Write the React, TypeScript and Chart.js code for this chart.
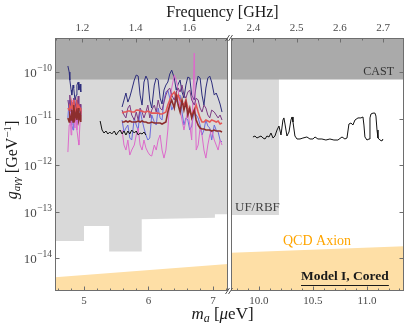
import React, { useEffect, useRef } from "react";
import { Chart, registerables } from "chart.js";

Chart.register(...registerables);

const SERIF = "'Liberation Serif', 'Times New Roman', serif";

// ---------------- axes ----------------
const LEFT_MASS_RANGE = [4.55, 7.233];
const RIGHT_MASS_RANGE = [9.741, 11.343];
const LEFT_FREQ_RANGE = [1.0977, 1.746];
const RIGHT_FREQ_RANGE = [2.3485, 2.748];
const G_RANGE = [1.95e-15, 5.4e-10];

const Y_TICKS = [1e-14, 1e-13, 1e-12, 1e-11, 1e-10];
const Y_TICK_BASE = "10";
const Y_TICK_EXPONENTS = ["−14", "−13", "−12", "−11", "−10"];
const LEFT_MASS_TICKS = [5, 6, 7];
const LEFT_MASS_MINOR = [4.6, 4.8, 5.2, 5.4, 5.6, 5.8, 6.2, 6.4, 6.6, 6.8, 7.2];
const RIGHT_MASS_TICKS = [10.0, 10.5, 11.0];
const RIGHT_MASS_MINOR = [9.8, 9.9, 10.1, 10.2, 10.3, 10.4, 10.6, 10.7, 10.8, 10.9, 11.1, 11.2, 11.3];
const LEFT_FREQ_TICKS = [1.2, 1.4, 1.6];
const LEFT_FREQ_MINOR = [1.1, 1.15, 1.25, 1.3, 1.35, 1.45, 1.5, 1.55, 1.65, 1.7];
const RIGHT_FREQ_TICKS = [2.4, 2.5, 2.6, 2.7];
const RIGHT_FREQ_MINOR = [2.35, 2.45, 2.55, 2.65];

// ---------------- exclusion regions ----------------
const CAST_G = 6.9e-11;
const UF_LEFT_MASS = [4.55, 5.0, 5.0, 5.39, 5.39, 5.895, 5.895, 7.03, 7.03, 7.233];
const UF_LEFT_G = [2.32e-14, 2.32e-14, 4.88e-14, 4.88e-14, 1.38e-14, 1.38e-14, 6.8e-14, 7.36e-14, 8.7e-14, 8.7e-14];
const UF_RIGHT_MASS = [9.741, 10.185];
const UF_RIGHT_G = [8.4e-14, 8.4e-14];
const QCD_LEFT_MASS = [4.55, 7.233];
const QCD_LEFT_G = [3.85e-15, 7.4e-15];
const QCD_RIGHT_MASS = [9.741, 11.343];
const QCD_RIGHT_G = [1.3e-14, 1.78e-14];

// ---------------- limits: first cluster ----------------
const CLUSTER_MASS = [4.75, 4.77, 4.78, 4.8, 4.81, 4.83, 4.84, 4.86, 4.88, 4.89, 4.91, 4.92, 4.94, 4.95];
const CLUSTER_NAVY = [1.35e-10, 1.0e-10, 6.73e-11, 4.1e-11, 3.2e-11, 5.25e-11, 4.53e-11, 2.5e-11, 3.2e-11, 5.25e-11, 6.09e-11, 4.1e-11, 5.52e-11, 3.72e-11];
const CLUSTER_BLUE = [1.03e-11, 2.5e-11, 1.95e-11, 1.38e-11, 7.25e-12, 5.66e-12, 1.03e-11, 1.52e-11, 1.19e-11, 7.25e-12, 9.29e-12, 1.68e-11, 1.38e-11, 1.95e-11];
const CLUSTER_PINK = [1.9e-12, 7.25e-12, 1.52e-11, 4.42e-12, 1.19e-11, 2.5e-11, 9.29e-12, 6.25e-12, 1.95e-11, 5.66e-12, 3.45e-12, 2.69e-12, 9.29e-12, 1.52e-11];
const CLUSTER_PURPLE = [2.5e-11, 1.68e-11, 3.2e-11, 1.38e-11, 2.26e-11, 1.19e-11, 2.76e-11, 1.68e-11, 2.5e-11, 1.38e-11, 3.05e-11, 1.52e-11, 2.05e-11, 1.19e-11];
const CLUSTER_RED = [1.68e-11, 1.52e-11, 1.86e-11, 1.68e-11, 2.05e-11, 1.52e-11, 2.5e-11, 1.38e-11, 1.68e-11, 2.05e-11, 1.52e-11, 1.86e-11, 1.68e-11, 1.52e-11];
const CLUSTER_DARKRED = [1.03e-11, 8.41e-12, 1.19e-11, 9.29e-12, 1.52e-11, 8.41e-12, 1.95e-11, 1.03e-11, 1.38e-11, 9.29e-12, 1.68e-11, 9.29e-12, 1.19e-11, 8.41e-12];

// ---------------- limits: main scan ----------------
const MAIN_MASS = [5.59, 5.62, 5.65, 5.68, 5.71, 5.74, 5.78, 5.81, 5.84, 5.87, 5.9, 5.93, 5.96, 5.99, 6.02, 6.05, 6.09, 6.12, 6.15, 6.18, 6.21, 6.24, 6.27, 6.3, 6.33, 6.36, 6.4, 6.43, 6.46, 6.49, 6.52, 6.55, 6.58, 6.61, 6.64, 6.67, 6.71, 6.74, 6.77, 6.8, 6.83, 6.86, 6.89, 6.92, 6.95, 6.98, 7.02, 7.05, 7.08, 7.11, 7.14];
const MAIN_NAVY = [1.77e-11, 2.5e-11, 3.54e-11, 2.26e-11, 2.9e-11, 4.1e-11, 6.73e-11, 8.62e-11, 8.2e-11, 3.2e-11, 1.95e-11, 6.09e-11, 8.2e-11, 6.73e-11, 2.5e-11, 1.68e-11, 5.25e-11, 7.43e-11, 6.73e-11, 2.76e-11, 2.05e-11, 4.1e-11, 5.25e-11, 6.09e-11, 9.06e-11, 1.1e-10, 7.43e-11, 4.1e-11, 5.52e-11, 6.73e-11, 3.72e-11, 2.76e-11, 5.25e-11, 7.8e-11, 7.43e-11, 3.2e-11, 2.5e-11, 5.25e-11, 8.2e-11, 7.43e-11, 3.2e-11, 1.95e-11, 4.53e-11, 7.43e-11, 8.2e-11, 6.09e-11, 3.2e-11, 3.54e-11, 2.76e-11, 2.05e-11, 1.38e-11];
const MAIN_BLUE = [9.29e-12, 5.13e-12, 6.25e-12, 7.25e-12, 3.81e-12, 3.45e-12, 1.03e-11, 7.25e-12, 5.66e-12, 1.52e-11, 9.29e-12, 6.25e-12, 4.42e-12, 3.45e-12, 3.81e-12, 1.19e-11, 8.41e-12, 7.25e-12, 1.68e-11, 1.03e-11, 9.29e-12, 2.5e-11, 3.72e-11, 4.1e-11, 2.76e-11, 1.52e-11, 2.05e-11, 2.26e-11, 3.05e-11, 3.2e-11, 1.38e-11, 7.25e-12, 1.03e-11, 9.29e-12, 5.66e-12, 6.9e-12, 1.52e-11, 1.19e-11, 1.03e-11, 7.25e-12, 4.42e-12, 5.66e-12, 9.29e-12, 6.9e-12, 6.25e-12, 3.45e-12, 7.25e-12, 5.66e-12, 5.13e-12, 3.45e-12, 3.13e-12];
const MAIN_PINK = [5.66e-12, 2.69e-12, 2.1e-12, 3.45e-12, 1.64e-12, 2.1e-12, 2.69e-12, 4.42e-12, 6.25e-12, 2.69e-12, 2.1e-12, 3.45e-12, 2.33e-12, 1.9e-12, 1.64e-12, 1.56e-12, 2.69e-12, 2.1e-12, 3.45e-12, 4.42e-12, 2.1e-12, 1.41e-12, 2.1e-12, 5.66e-12, 2.5e-11, 4.53e-11, 8.62e-11, 6.73e-11, 4.1e-11, 1.52e-11, 9.29e-12, 5.66e-12, 9.29e-12, 1.52e-11, 7.25e-12, 3.45e-12, 2.56e-10, 2.1e-12, 2.69e-12, 6.25e-12, 4.42e-12, 2.1e-12, 1.41e-12, 2.69e-12, 4.42e-12, 5.66e-12, 3.45e-12, 2.69e-12, 2.1e-12, 3.45e-12, 2.69e-12];
const MAIN_PURPLE = [1.52e-11, 1.19e-11, 1.03e-11, 1.68e-11, 1.95e-11, 1.19e-11, 9.29e-12, 1.38e-11, 9.29e-12, 1.68e-11, 1.38e-11, 1.03e-11, 1.38e-11, 1.95e-11, 1.03e-11, 1.52e-11, 1.95e-11, 1.38e-11, 2.5e-11, 1.68e-11, 1.52e-11, 2.26e-11, 3.2e-11, 4.1e-11, 4.53e-11, 3.2e-11, 2.5e-11, 3.72e-11, 4.53e-11, 3.72e-11, 5.25e-11, 3.2e-11, 2.76e-11, 3.72e-11, 4.1e-11, 2.5e-11, 1.95e-11, 2.76e-11, 2.5e-11, 1.68e-11, 1.38e-11, 1.95e-11, 1.68e-11, 1.19e-11, 1.03e-11, 1.52e-11, 1.38e-11, 1.19e-11, 1.03e-11, 1.19e-11, 9.29e-12];
const MAIN_RED = [1.31e-11, 1.38e-11, 1.38e-11, 1.45e-11, 1.45e-11, 1.38e-11, 1.38e-11, 1.52e-11, 1.52e-11, 1.45e-11, 1.45e-11, 1.38e-11, 1.38e-11, 1.45e-11, 1.38e-11, 1.31e-11, 1.31e-11, 1.31e-11, 1.31e-11, 1.25e-11, 1.25e-11, 1.31e-11, 1.38e-11, 1.95e-11, 2.5e-11, 3.2e-11, 3.72e-11, 2.76e-11, 3.2e-11, 2.5e-11, 2.16e-11, 1.95e-11, 2.5e-11, 1.68e-11, 1.38e-11, 1.19e-11, 1.52e-11, 1.95e-11, 1.38e-11, 1.03e-11, 8.41e-12, 8.41e-12, 9.29e-12, 8.84e-12, 8.41e-12, 9.29e-12, 8.84e-12, 8.41e-12, 8.84e-12, 7.62e-12, 8.01e-12];
const MAIN_DARKRED = [8.41e-12, 8.41e-12, 8.84e-12, 8.41e-12, 8.84e-12, 8.41e-12, 8.41e-12, 8.41e-12, 8.84e-12, 8.41e-12, 8.84e-12, 8.41e-12, 8.41e-12, 8.01e-12, 8.01e-12, 8.41e-12, 8.01e-12, 8.01e-12, 8.01e-12, 8.01e-12, 7.62e-12, 8.01e-12, 8.41e-12, 1.38e-11, 1.95e-11, 2.5e-11, 1.68e-11, 3.2e-11, 1.95e-11, 1.38e-11, 2.5e-11, 1.52e-11, 2.26e-11, 1.19e-11, 1.68e-11, 1.03e-11, 1.52e-11, 9.29e-12, 7.25e-12, 6.25e-12, 5.95e-12, 5.95e-12, 5.66e-12, 5.66e-12, 5.66e-12, 5.39e-12, 5.66e-12, 5.39e-12, 5.39e-12, 5.39e-12, 5.13e-12];

// ---------------- limits: black scans ----------------
const BLACK_LEFT_MASS = [5.25, 5.28, 5.31, 5.34, 5.37, 5.4, 5.43, 5.47, 5.5, 5.53, 5.56, 5.59, 5.62, 5.65, 5.68, 5.71, 5.74, 5.78, 5.81, 5.84, 5.87, 5.9, 5.93, 5.96];
const BLACK_LEFT_G = [8.84e-12, 5.66e-12, 4.88e-12, 5.39e-12, 4.65e-12, 5.13e-12, 4.65e-12, 5.39e-12, 4.42e-12, 5.13e-12, 5.66e-12, 4.65e-12, 5.39e-12, 4.42e-12, 5.39e-12, 4.65e-12, 5.66e-12, 4.88e-12, 5.39e-12, 4.42e-12, 4.88e-12, 4.65e-12, 5.13e-12, 4.42e-12];
const BLACK_RIGHT_MASS = [9.944, 9.963, 9.981, 10.0, 10.019, 10.037, 10.056, 10.074, 10.093, 10.111, 10.13, 10.148, 10.167, 10.185, 10.204, 10.222, 10.231, 10.241, 10.259, 10.278, 10.296, 10.306, 10.315, 10.333, 10.352, 10.38, 10.407, 10.444, 10.472, 10.5, 10.519, 10.546, 10.583, 10.62, 10.657, 10.694, 10.731, 10.769, 10.796, 10.815, 10.833, 10.852, 10.87, 10.889, 10.917, 10.944, 10.963, 10.972, 10.981, 11.0, 11.019, 11.028, 11.037, 11.056, 11.074, 11.083, 11.093, 11.102, 11.12, 11.139, 11.148];
const BLACK_RIGHT_G = [4.01e-12, 4.21e-12, 3.81e-12, 4.01e-12, 4.21e-12, 3.81e-12, 3.63e-12, 4.21e-12, 4.01e-12, 4.88e-12, 3.81e-12, 4.21e-12, 5.66e-12, 6.9e-12, 4.42e-12, 9.29e-12, 1.03e-11, 7.62e-12, 4.21e-12, 5.13e-12, 9.29e-12, 1.08e-11, 8.41e-12, 4.21e-12, 3.63e-12, 3.63e-12, 3.81e-12, 4.01e-12, 3.63e-12, 3.63e-12, 4.01e-12, 3.63e-12, 3.63e-12, 3.45e-12, 3.63e-12, 3.45e-12, 3.45e-12, 4.01e-12, 3.63e-12, 3.81e-12, 7.62e-12, 8.01e-12, 7.25e-12, 9.29e-12, 1.03e-11, 1.03e-11, 1.08e-11, 7.25e-12, 4.01e-12, 3.45e-12, 3.63e-12, 1.03e-11, 1.25e-11, 1.31e-11, 1.31e-11, 1.13e-11, 5.66e-12, 3.81e-12, 3.45e-12, 3.29e-12, 3.63e-12];

// ---------------- styling ----------------
const W = 407;
const H = 330;
const COLORS = {
  cast: "#aaaaaa",
  uf: "#d9d9d9",
  qcd: "#fedfa6",
  qcdText: "#ffa500",
  navy: "#2d2d7c",
  blue: "#6a6add",
  pink: "#dd6acb",
  purple: "#7c3a84",
  red: "#e45757",
  darkred: "#8c2e2e",
  black: "#111111",
  frame: "#6e6e6e",
  tick: "#4a4a4a",
  text: "#1a1a1a",
};

const pts = (xs: number[], ys: number[]) => xs.map((x, i) => ({ x, y: ys[i] }));

const line = (data: any[], color: string, width: number, order: number) => ({
  data,
  borderColor: color,
  borderWidth: width,
  pointRadius: 0,
  tension: 0,
  fill: false,
  order,
  xAxisID: "x",
  yAxisID: "y",
});

const region = (data: any[], color: string, fill: string, order: number) => ({
  data,
  borderColor: "rgba(0,0,0,0)",
  borderWidth: 1,
  backgroundColor: color,
  pointRadius: 0,
  tension: 0,
  fill,
  order,
  xAxisID: "x",
  yAxisID: "y",
});

function makeFramePlugin(cfg: any) {
  return {
    id: "frame",
    afterDatasetsDraw(chart: any) {
      const { ctx, chartArea: ca, scales } = chart;
      ctx.save();
      ctx.strokeStyle = COLORS.frame;
      ctx.lineWidth = 1;
      const L = ca.left + 0.5;
      const R = ca.right - 0.5;
      const T = ca.top + 0.5;
      const B = ca.bottom - 0.5;
      ctx.strokeRect(L, T, R - L, B - T);
      const seg = (x1: number, y1: number, x2: number, y2: number) => {
        ctx.beginPath();
        ctx.moveTo(x1, y1);
        ctx.lineTo(x2, y2);
        ctx.stroke();
      };
      const vt = (scale: any, vals: number[], len: number, top: boolean) =>
        vals.forEach((v) => {
          const px = Math.round(scale.getPixelForValue(v)) + 0.5;
          if (top) seg(px, T, px, T + len);
          else seg(px, B, px, B - len);
        });
      vt(scales.x, cfg.bottomMajor, 4, false);
      vt(scales.x, cfg.bottomMinor, 2, false);
      vt(scales.x2, cfg.topMajor, 4, true);
      vt(scales.x2, cfg.topMinor, 2, true);
      Y_TICKS.forEach((v, i) => {
        const py = Math.round(scales.y.getPixelForValue(v)) + 0.5;
        if (cfg.ySide === "left") {
          seg(L, py, L + 4, py);
          // tick label: 10 with superscript exponent
          ctx.fillStyle = COLORS.tick;
          ctx.textBaseline = "middle";
          ctx.textAlign = "right";
          ctx.font = `9.5px ${SERIF}`;
          const ew = ctx.measureText(Y_TICK_EXPONENTS[i]).width;
          const xr = ca.left - 3;
          ctx.fillText(Y_TICK_EXPONENTS[i], xr, py - 4);
          ctx.font = `13px ${SERIF}`;
          ctx.fillText(Y_TICK_BASE, xr - ew - 0.5, py + 1);
        } else {
          seg(R, py, R - 4, py);
        }
      });
      ctx.restore();
    },
  };
}

function drawRich(ctx: any, parts: any[], cx: number, cy: number) {
  let total = 0;
  parts.forEach((p) => {
    ctx.font = p.f;
    total += ctx.measureText(p.t).width;
  });
  let x = cx - total / 2;
  parts.forEach((p) => {
    ctx.font = p.f;
    ctx.fillText(p.t, x, cy + p.dy);
    x += ctx.measureText(p.t).width;
  });
}

const textPlugin = {
  id: "texts",
  afterDraw(chart: any) {
    const { ctx } = chart;
    ctx.save();
    ctx.textBaseline = "middle";
    ctx.fillStyle = COLORS.text;
    ctx.textAlign = "center";
    ctx.font = `16px ${SERIF}`;
    ctx.fillText("Frequency [GHz]", 222.5, 13);
    ctx.textAlign = "left";
    drawRich(
      ctx,
      [
        { t: "m", f: `italic 17px ${SERIF}`, dy: 0 },
        { t: "a", f: `italic 12px ${SERIF}`, dy: 4 },
        { t: " [", f: `17px ${SERIF}`, dy: 0 },
        { t: "μ", f: `italic 17px ${SERIF}`, dy: 0 },
        { t: "eV]", f: `17px ${SERIF}`, dy: 0 },
      ],
      222.5,
      315
    );
    ctx.save();
    ctx.translate(13, 160);
    ctx.rotate(-Math.PI / 2);
    drawRich(
      ctx,
      [
        { t: "g", f: `italic 16px ${SERIF}`, dy: 0 },
        { t: "aγγ", f: `italic 11px ${SERIF}`, dy: 4 },
        { t: " [GeV", f: `16px ${SERIF}`, dy: 0 },
        { t: "−1", f: `11px ${SERIF}`, dy: -5 },
        { t: "]", f: `16px ${SERIF}`, dy: 0 },
      ],
      0,
      0
    );
    ctx.restore();
    ctx.fillStyle = "#333333";
    ctx.textAlign = "right";
    ctx.font = `12px ${SERIF}`;
    ctx.fillText("CAST", 394, 72);
    ctx.textAlign = "left";
    ctx.fillStyle = "#444444";
    ctx.font = `13px ${SERIF}`;
    ctx.fillText("UF/RBF", 235, 208);
    ctx.fillStyle = COLORS.qcdText;
    ctx.font = `14px ${SERIF}`;
    ctx.fillText("QCD Axion", 283, 241);
    ctx.fillStyle = COLORS.text;
    ctx.font = `bold 13.5px ${SERIF}`;
    ctx.fillText("Model I, Cored", 301, 277);
    const w = ctx.measureText("Model I, Cored").width;
    ctx.strokeStyle = COLORS.text;
    ctx.lineWidth = 1;
    ctx.beginPath();
    ctx.moveTo(301, 285.5);
    ctx.lineTo(301 + w, 285.5);
    ctx.stroke();
    ctx.strokeStyle = "#555555";
    [0, 3].forEach((dx) => {
      ctx.beginPath();
      ctx.moveTo(225.5 + dx, 41);
      ctx.lineTo(229.5 + dx, 35);
      ctx.stroke();
      ctx.beginPath();
      ctx.moveTo(225.5 + dx, 294);
      ctx.lineTo(229.5 + dx, 288);
      ctx.stroke();
    });
    ctx.restore();
  },
};

const tickFont = { family: SERIF, size: 11 };

function xScales(massRange: number[], massTicks: number[], freqRange: number[], freqTicks: number[], fmtMass: (v: number) => string) {
  return {
    x: {
      type: "linear",
      position: "bottom",
      min: massRange[0],
      max: massRange[1],
      grid: { display: false, drawTicks: false },
      border: { display: false },
      afterBuildTicks: (s: any) => {
        s.ticks = massTicks.map((v) => ({ value: v }));
      },
      ticks: { callback: (v: number) => fmtMass(v), font: tickFont, color: COLORS.tick, padding: 4, maxRotation: 0, minRotation: 0, autoSkip: false },
      afterFit: (s: any) => {
        s.height = H - 291;
      },
    },
    x2: {
      type: "linear",
      position: "top",
      min: freqRange[0],
      max: freqRange[1],
      grid: { display: false, drawTicks: false },
      border: { display: false },
      afterBuildTicks: (s: any) => {
        s.ticks = freqTicks.map((v) => ({ value: v }));
      },
      ticks: { callback: (v: number) => v.toFixed(1), font: tickFont, color: COLORS.tick, padding: 3, maxRotation: 0, minRotation: 0, autoSkip: false },
      afterFit: (s: any) => {
        s.height = 38;
      },
    },
  };
}

function yScale(width: number) {
  return {
    type: "logarithmic",
    position: "left",
    min: G_RANGE[0],
    max: G_RANGE[1],
    grid: { display: false, drawTicks: false },
    border: { display: false },
    afterBuildTicks: (s: any) => {
      s.ticks = Y_TICKS.map((v) => ({ value: v }));
    },
    ticks: { display: false },
    afterFit: (s: any) => {
      s.width = width;
    },
  };
}

const baseOptions = {
  responsive: false,
  animation: false,
  devicePixelRatio: 1,
  events: [],
  plugins: { legend: { display: false }, tooltip: { enabled: false } },
};

export default function App() {
  const refA = useRef<HTMLCanvasElement>(null);
  const refB = useRef<HTMLCanvasElement>(null);

  useEffect(() => {
    Chart.defaults.font.family = SERIF;
    const left = new Chart(refA.current as HTMLCanvasElement, {
      type: "line",
      data: {
        datasets: [
          line(pts(BLACK_LEFT_MASS, BLACK_LEFT_G), COLORS.black, 1, 0),
          line(pts(CLUSTER_MASS, CLUSTER_DARKRED), COLORS.darkred, 1.6, 1),
          line(pts(MAIN_MASS, MAIN_DARKRED), COLORS.darkred, 1.6, 1),
          line(pts(CLUSTER_MASS, CLUSTER_RED), COLORS.red, 1.6, 2),
          line(pts(MAIN_MASS, MAIN_RED), COLORS.red, 1.6, 2),
          line(pts(CLUSTER_MASS, CLUSTER_PURPLE), COLORS.purple, 1, 3),
          line(pts(MAIN_MASS, MAIN_PURPLE), COLORS.purple, 1, 3),
          line(pts(CLUSTER_MASS, CLUSTER_PINK), COLORS.pink, 1, 4),
          line(pts(MAIN_MASS, MAIN_PINK), COLORS.pink, 1, 4),
          line(pts(CLUSTER_MASS, CLUSTER_BLUE), COLORS.blue, 1, 5),
          line(pts(MAIN_MASS, MAIN_BLUE), COLORS.blue, 1, 5),
          line(pts(CLUSTER_MASS, CLUSTER_NAVY), COLORS.navy, 1, 6),
          line(pts(MAIN_MASS, MAIN_NAVY), COLORS.navy, 1, 6),
          region(pts(LEFT_MASS_RANGE, [CAST_G, CAST_G]), COLORS.cast, "end", 8),
          region(pts(UF_LEFT_MASS, UF_LEFT_G), COLORS.uf, "end", 9),
          region(pts(QCD_LEFT_MASS, QCD_LEFT_G), COLORS.qcd, "start", 10),
        ],
      },
      options: {
        ...baseOptions,
        layout: { padding: { left: 0, right: W - 228, top: 0, bottom: 0 } },
        scales: {
          ...xScales(LEFT_MASS_RANGE, LEFT_MASS_TICKS, LEFT_FREQ_RANGE, LEFT_FREQ_TICKS, (v) => String(v)),
          y: yScale(55),
        },
      } as any,
      plugins: [
        makeFramePlugin({
          bottomMajor: LEFT_MASS_TICKS,
          bottomMinor: LEFT_MASS_MINOR,
          topMajor: LEFT_FREQ_TICKS,
          topMinor: LEFT_FREQ_MINOR,
          ySide: "left",
        }),
      ],
    } as any);

    const right = new Chart(refB.current as HTMLCanvasElement, {
      type: "line",
      data: {
        datasets: [
          line(pts(BLACK_RIGHT_MASS, BLACK_RIGHT_G), COLORS.black, 1, 0),
          region(pts(RIGHT_MASS_RANGE, [CAST_G, CAST_G]), COLORS.cast, "end", 8),
          region(pts(UF_RIGHT_MASS, UF_RIGHT_G), COLORS.uf, "end", 9),
          region(pts(QCD_RIGHT_MASS, QCD_RIGHT_G), COLORS.qcd, "start", 10),
        ],
      },
      options: {
        ...baseOptions,
        layout: { padding: { left: 0, right: W - 404, top: 0, bottom: 0 } },
        scales: {
          ...xScales(RIGHT_MASS_RANGE, RIGHT_MASS_TICKS, RIGHT_FREQ_RANGE, RIGHT_FREQ_TICKS, (v) => v.toFixed(1)),
          y: yScale(231),
        },
      } as any,
      plugins: [
        makeFramePlugin({
          bottomMajor: RIGHT_MASS_TICKS,
          bottomMinor: RIGHT_MASS_MINOR,
          topMajor: RIGHT_FREQ_TICKS,
          topMinor: RIGHT_FREQ_MINOR,
          ySide: "right",
        }),
        textPlugin,
      ],
    } as any);

    return () => {
      left.destroy();
      right.destroy();
    };
  }, []);

  const canvasStyle: React.CSSProperties = { position: "absolute", left: 0, top: 0, width: W, height: H };
  return (
    <div style={{ position: "fixed", left: 0, top: 0, width: W, height: H, background: "#ffffff" }}>
      <canvas ref={refA} width={W} height={H} style={canvasStyle} />
      <canvas ref={refB} width={W} height={H} style={canvasStyle} />
    </div>
  );
}
